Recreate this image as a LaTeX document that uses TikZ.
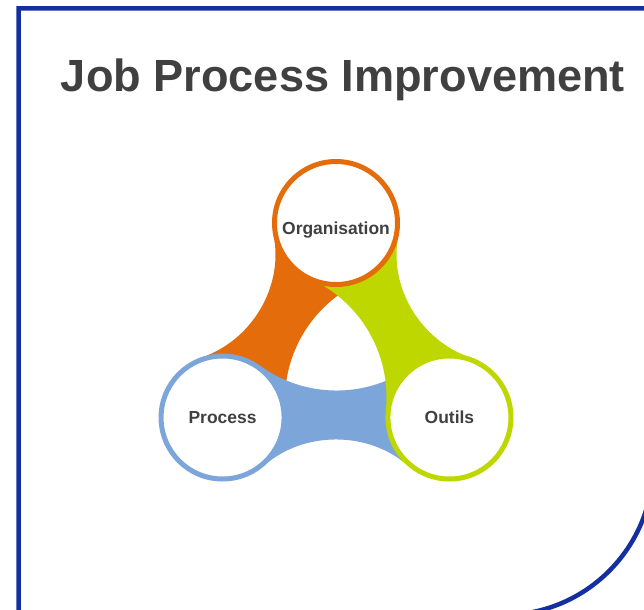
\documentclass[tikz,border=0pt]{standalone}
\usepackage{fontspec}
\setmainfont{Liberation Sans}
\usetikzlibrary{backgrounds}

\definecolor{framecol}{RGB}{20,48,160}
\definecolor{textgray}{RGB}{64,64,64}
\definecolor{orgorange}{RGB}{228,108,10}
\definecolor{procblue}{RGB}{124,165,218}
\definecolor{outilgreen}{RGB}{190,215,0}

\begin{document}
\begin{tikzpicture}[x=0.03cm, y=0.03cm,
	ring/.style={circle, draw=#1, line width=0.15cm, fill=white, minimum size=3.69cm, inner sep=0pt,
		text=textgray, font=\bfseries\fontsize{14.9}{18}\selectfont, text height=0.37cm, text depth=0cm}]
	\useasboundingbox (0,0) rectangle (644,609);
	
	%page and frame
	\begin{scope}[on background layer]
		\fill[white] (0,0) rectangle (644,609);
		\clip (0,0) rectangle (644,609);
		\draw[framecol, line width=0.135cm] (18.5,-6) -- (18.5,600.5) -- (653,600.5) -- (653,144)
			arc[start angle=0, end angle=-90, radius=4.5cm] -- cycle;
	\end{scope}
	
	%title
	\node[anchor=base, text=textgray, font=\bfseries\fontsize{38.5}{46}\selectfont] (title) at (343,517.3) {Job Process Improvement};
	
	\begin{scope}[shift={(336,257)}]
		%rings
		\node[ring=orgorange, text height=0.7cm] (org) at (90:129) {Organisation};
		\node[ring=procblue] (proc) at (210:131) {Process};
		\node[ring=outilgreen] (outil) at (330:131) {Outils};
		
		%bands behind the rings
		\begin{scope}[on background layer]
			\fill[orgorange] (org.-66) arc[start angle=114, end angle=186, radius=3.9cm] -- (proc.center) -- (proc.104)
				.. controls +(21.7:48.4) and +(-81.7:48.4) .. (org.196) -- (org.center) -- cycle;
			\fill[procblue] (proc.54) arc[start angle=234, end angle=306, radius=3.9cm] -- (outil.center) -- (outil.224)
				.. controls +(141.7:48.4) and +(38.3:48.4) .. (proc.-44) -- (proc.center) -- cycle;
			\fill[outilgreen] (outil.174) arc[start angle=354, end angle=426, radius=3.9cm] -- (org.center) -- (org.344)
				.. controls +(261.7:48.4) and +(158.3:48.4) .. (outil.76) -- (outil.center) -- cycle;
		\end{scope}
	\end{scope}
\end{tikzpicture}
\end{document}
